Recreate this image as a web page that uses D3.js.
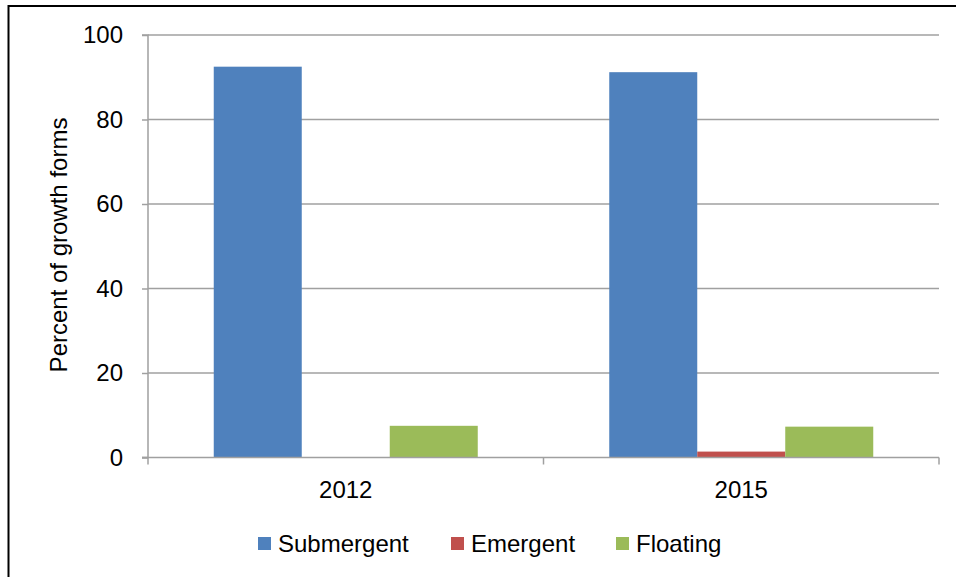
<!DOCTYPE html>
<html><head><meta charset="utf-8">
<script src="https://cdn.jsdelivr.net/npm/d3@7"></script>
<style>body{margin:0;background:#fff}svg{display:block}text{font-family:"Liberation Sans",Arial,sans-serif}</style>
</head><body><svg id="c" width="956" height="577"></svg>
<script>
const categories = ["2012", "2015"];
const seriesNames = ["Submergent", "Emergent", "Floating"];
const submergent = [92.5, 91.2];
const emergent = [0, 1.4];
const floating = [7.5, 7.3];
const colors = ["#4F81BD", "#C0504D", "#9BBB59"];
const yTicks = [0, 20, 40, 60, 80, 100];

const FS = 24;
const svg = d3.select("#c");
svg.append("rect").attr("x", 8.5).attr("y", 6).attr("width", 1000).attr("height", 1000)
  .attr("fill", "none").attr("stroke", "#000").attr("stroke-width", 2);

const L = 148, R = 939, T = 35, B = 457.5;
const x = d3.scaleBand().domain(categories).range([L, R]);
const y = d3.scaleLinear().domain([0, 100]).range([B, T]);
const series = [submergent, emergent, floating];
const barW = 88;

// gridlines
svg.append("g").selectAll("line").data(yTicks.filter(d => d > 0)).join("line")
  .attr("x1", L).attr("x2", R).attr("y1", d => y(d)).attr("y2", d => y(d))
  .attr("stroke", "#a0a0a0").attr("stroke-width", 1.5);

// bars
categories.forEach((c, ci) => {
  const start = x(c) + (x.bandwidth() - barW * 3) / 2;
  series.forEach((s, si) => {
    if (s[ci] <= 0) return;
    svg.append("rect").attr("x", start + si * barW).attr("y", y(s[ci]))
      .attr("width", barW).attr("height", y(0) - y(s[ci])).attr("fill", colors[si]);
  });
});

// y axis
const ya = svg.append("g").attr("transform", `translate(${L},0)`)
  .call(d3.axisLeft(y).tickValues(yTicks).tickSize(6).tickPadding(19));
ya.select(".domain").attr("stroke", "#a0a0a0").attr("stroke-width", 1.5).attr("d", `M-6,${T}H0V${B}H-6`);
ya.selectAll(".tick line").attr("stroke", "#a0a0a0").attr("stroke-width", 1.5);
ya.selectAll("text").attr("font-size", FS).attr("fill", "#000")
  .attr("font-family", "Liberation Sans, Arial, sans-serif");

// x axis
const xa = svg.append("g");
xa.append("line").attr("x1", L - 6).attr("x2", R).attr("y1", B).attr("y2", B)
  .attr("stroke", "#a0a0a0").attr("stroke-width", 1.5);
const bounds = [L, ...categories.map(c => x(c) + x.bandwidth())];
xa.selectAll("line.t").data(bounds).join("line").attr("class", "t")
  .attr("x1", d => d).attr("x2", d => d).attr("y1", B).attr("y2", B + 7)
  .attr("stroke", "#a0a0a0").attr("stroke-width", 1.5);
xa.selectAll("text").data(categories).join("text")
  .attr("x", d => x(d) + x.bandwidth() / 2).attr("y", 498)
  .attr("text-anchor", "middle").attr("font-size", FS).text(d => d);

// y label
svg.append("text").attr("transform", "translate(66.5,245) rotate(-90)")
  .attr("text-anchor", "middle").attr("font-size", FS).text("Percent of growth forms");

// legend
const legX = [258, 451, 616];
seriesNames.forEach((n, i) => {
  svg.append("rect").attr("x", legX[i]).attr("y", 537).attr("width", 13).attr("height", 13).attr("fill", colors[i]);
  svg.append("text").attr("x", legX[i] + 20).attr("y", 551.5).attr("font-size", FS).text(n);
});
</script></body></html>
